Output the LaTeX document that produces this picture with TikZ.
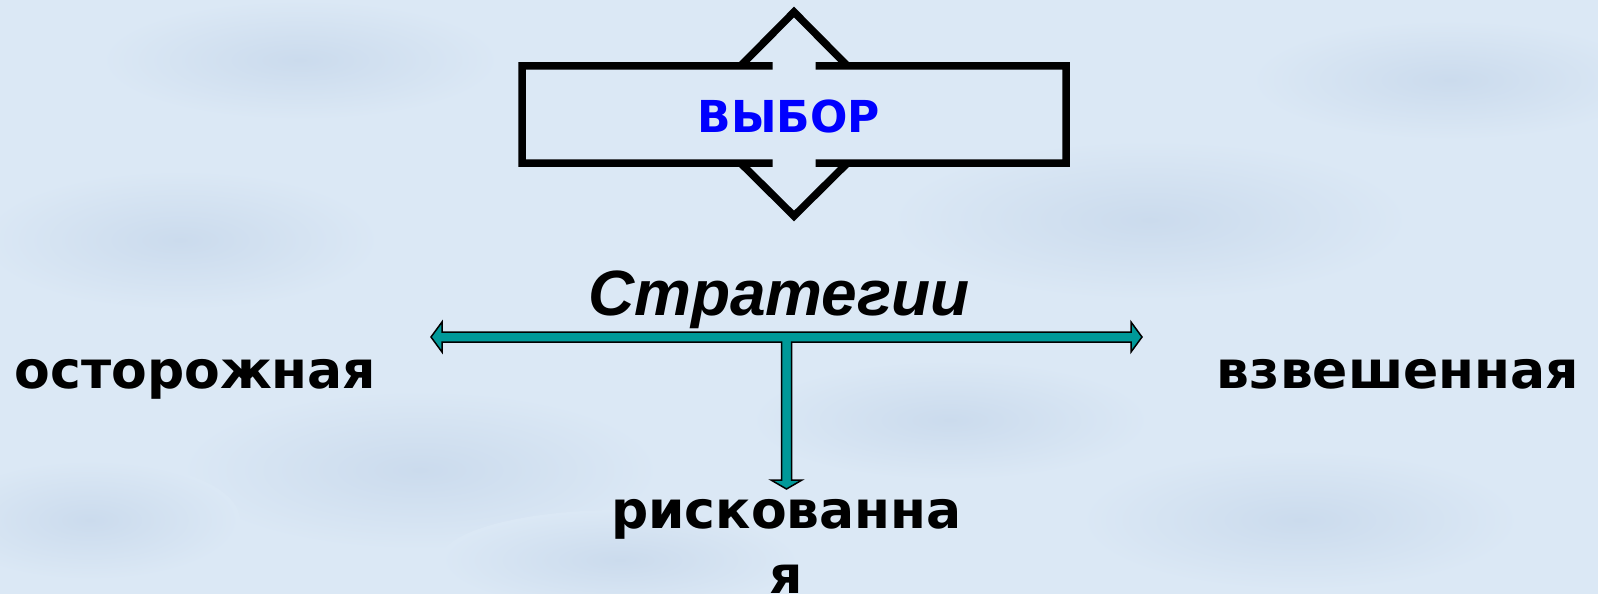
\documentclass[tikz,border=0pt]{standalone}
\usepackage{fontspec}
\setmainfont{DejaVu Sans}
\newfontfamily\arialfont{Liberation Sans}
\definecolor{bgblue}{HTML}{DBE8F5}
\definecolor{bgdark}{HTML}{CBDBED}
\definecolor{teal}{HTML}{009999}
\definecolor{titleblue}{HTML}{0000FF}
\begin{document}
\begin{tikzpicture}[x=1pt,y=-1pt,
  word/.style={font=\fontsize{52}{65}\selectfont\bfseries, anchor=base, inner sep=0pt},
  frame/.style={draw=black, line width=7.5pt, miter limit=10},
  branch/.style={draw=black, fill=teal, line width=1.5pt},
  blot/.style={inner color=bgdark, outer color=bgblue}]
  % background with soft mottling
  \fill[bgblue] (0,0) rectangle (1598,594);
  \useasboundingbox (0,0) rectangle (1598,594);
  \foreach \x/\y/\rx/\ry in {180/240/200/70, 420/470/240/80, 1150/220/260/80, 1300/520/220/70,
                             620/560/180/50, 950/420/200/60, 90/520/150/60, 300/60/200/60, 1450/80/200/60}
    \shade[blot] (\x,\y) ellipse [x radius=\rx, y radius=\ry];

  % up-down arrow callout
  \draw[frame] (522,66) -- (772.5,66) -- (740.5,66) -- (794,12) -- (847.5,66) -- (815.5,66)
    -- (1066,66) -- (1066,163) -- (815.5,163) -- (847.5,163) -- (794,216) -- (740.5,163)
    -- (772.5,163) -- (522,163) -- cycle;
  \node[font=\fontsize{44}{56}\selectfont\bfseries, anchor=base, inner sep=0pt, text=titleblue]
    (choice) at (789,132) {ВЫБОР};

  \node[font=\arialfont\fontsize{64}{70}\selectfont\bfseries\itshape, anchor=base, inner sep=0pt]
    (strat) at (779,315) {Стратегии};

  % branching arrow
  \coordinate (lt) at (431,337);
  \coordinate (rt) at (1142,337);
  \coordinate (dt) at (786.5,489);
  \path[branch] (lt) -- (442,322) -- (442,332) -- (1131,332) -- (1131,322) -- (rt)
    -- (1131,352) -- (1131,342) -- (791.5,342) -- (791.5,480) -- (802,480) -- (dt)
    -- (771,480) -- (781.5,480) -- (781.5,342) -- (442,342) -- (442,352) -- cycle;

  \node[word] (careful) at (195.5,388) {осторожная};
  \node[word] (balanced) at (1398,388) {взвешенная};
  \node[word, align=center] (risky) at (786.5,593) {рискованна\\я};
\end{tikzpicture}
\end{document}
